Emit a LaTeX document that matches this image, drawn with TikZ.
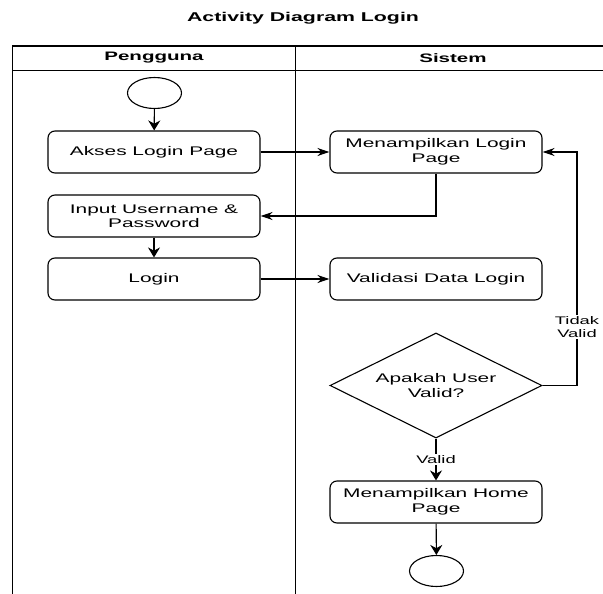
\documentclass[tikz,border=0pt]{standalone}
\usepackage{fontspec}
\setmainfont{Liberation Sans}[FakeStretch=1.67]
\usetikzlibrary{shapes.geometric,arrows.meta}

\begin{document}
\begin{tikzpicture}[x=1pt, y=-1pt,
  garis/.style={line width=1.1pt},
  kepala/.style={font=\bfseries\fontsize{12.3}{14}\selectfont},
  aktivitas/.style={draw, line width=1.1pt, rounded corners=7pt, minimum width=212pt, minimum height=42pt, inner sep=0pt, align=center, font=\fontsize{12.5}{14.5}\selectfont},
  keputusan/.style={draw, diamond, aspect=2, line width=1.1pt, minimum width=212pt, minimum height=105pt, inner sep=0pt, align=center, font=\fontsize{12.5}{14.5}\selectfont},
  titik/.style={draw, ellipse, line width=1.1pt, minimum width=54pt, minimum height=31pt, inner sep=0pt},
  panah/.style={line width=1.1pt, -{Stealth[length=12pt, width=8pt]}},
  panahbawah/.style={line width=1.1pt, -{Stealth[length=10pt, width=12pt]}},
  ket/.style={fill=white, inner sep=1pt, align=center, font=\fontsize{11}{13.8}\selectfont}]
\clip (0,0) rectangle (603,594);

% judul
\node [font=\bfseries\fontsize{12.75}{15}\selectfont] (judul) at (303,18) {Activity Diagram Login};

% jalur
\draw [garis] (12.7,600) -- (12.7,46) -- (620,46);
\draw [garis] (12.7,70.5) -- (620,70.5);
\draw [garis] (295.5,46) -- (295.5,600);
\node [kepala] (pengguna) at (154,58) {Pengguna};
\node [kepala] (sistem) at (453,58) {Sistem};

% pengguna
\node [titik] (mulai) at (154.5,93) {};
\node [aktivitas] (akses) at (154,152) {Akses Login Page};
\node [aktivitas] (input) at (154,216) {Input Username \&\\Password};
\node [aktivitas] (login) at (154,279) {Login};

% sistem
\node [aktivitas] (tampillogin) at (436,152) {Menampilkan Login\\Page};
\node [aktivitas] (validasi) at (436,279) {Validasi Data Login};
\node [keputusan] (cek) at (436,385.5) {Apakah User\\Valid?};
\node [aktivitas] (home) at (436,502) {Menampilkan Home\\Page};
\node [titik] (selesai) at (436.5,571) {};

% panah
\draw [panahbawah] (mulai) -- (akses);
\draw [panah] (akses) -- (tampillogin);
\draw [panah] (tampillogin.south) |- (input.east);
\draw [panahbawah] (input) -- (login);
\draw [panah] (login) -- (validasi);
\coordinate (belok) at (577,385.5);
\draw [panah] (cek.east) -- (belok) -- node [ket, pos=0.25] {Tidak\\Valid} (belok |- tampillogin.east) -- (tampillogin.east);
\draw [panahbawah] (cek) -- node [ket] {Valid} (home);
\draw [panahbawah] (home) -- (selesai);
\end{tikzpicture}
\end{document}
